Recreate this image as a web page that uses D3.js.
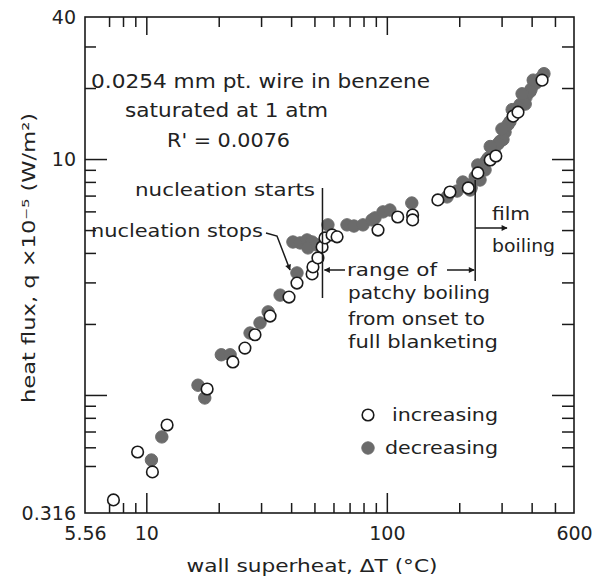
<!DOCTYPE html>
<html>
<head>
<meta charset="utf-8">
<script src="https://cdnjs.cloudflare.com/ajax/libs/d3/7.8.5/d3.min.js"></script>
<style>
  body { margin: 0; background: #fff; }
  svg text { font-family: "DejaVu Sans", sans-serif; fill: #222; }
  .tick line { stroke: #1a1a1a; stroke-width: 1.5; }
</style>
</head>
<body>
<svg id="chart" width="602" height="584"></svg>
<script>
// wall superheat dT (C) and heat flux q x 1e-5 (W/m2)
const incDT = [7.3, 9.2, 10.6, 12.2, 17.9, 22.9, 25.7, 28.3, 32.7, 39.2,
  42.3, 48.9, 49.3, 51.7, 53.8, 55.3, 59.2, 62.1, 91.9, 111,
  128, 128, 163, 183, 218, 239, 269, 284, 335, 351, 442];
const incQ = [0.359, 0.573, 0.472, 0.746, 1.06, 1.38, 1.58, 1.80, 2.16, 2.60,
  2.98, 3.26, 3.49, 3.81, 4.24, 4.63, 4.77, 4.68, 5.00, 5.68,
  5.79, 5.52, 6.71, 7.25, 7.54, 8.73, 9.91, 10.3, 15.2, 15.8, 21.6];

const decDT = [10.5, 11.6, 16.4, 17.5, 20.5, 22.3, 27.0, 29.7, 32.1, 36.0,
  42.3, 40.7, 43.6, 46.6, 48.9, 47.0, 51.3, 56.9, 68.3, 73.0,
  79.6, 86.8, 89.3, 96.4, 103, 127, 178, 196, 216, 233,
  249, 264, 279, 296, 310, 325, 341, 358, 379, 398,
  417, 438, 450, 256, 304, 376, 222, 244,
  224, 259, 290, 319, 351, 394, 207, 239, 269, 301, 332, 365, 406];
const decQ = [0.530, 0.664, 1.10, 0.971, 1.48, 1.48, 1.83, 2.02, 2.25, 2.65,
  3.29, 4.45, 4.41, 4.54, 4.45, 4.20, 4.32, 5.26, 5.26, 5.20,
  5.26, 5.52, 5.63, 5.97, 6.08, 6.51, 6.91, 7.32, 7.77, 8.40,
  9.17, 10.1, 10.9, 11.9, 13.0, 14.4, 15.7, 17.0, 18.3, 19.8,
  21.0, 22.1, 23.0, 8.99, 12.1, 17.1, 7.39, 8.15,
  7.54, 9.81, 11.6, 14.0, 16.5, 19.3, 7.99, 9.44, 11.3, 13.4, 16.2, 18.9, 21.6];

const xTickLabels = [5.56, 10, 100, 600];
const yTickLabels = [0.316, 10, 40];
const xMinor = [7, 8, 9, 20, 30, 40, 50, 60, 70, 80, 90, 200, 300, 400, 500];
const xMajor = [10, 100];
const yMinor = [0.5, 0.6, 0.7, 0.8, 0.9, 2, 3, 4, 5, 6, 7, 8, 9, 20, 30];
const yMajor = [1, 10];

// onset of patchy boiling and full blanketing (dT)
const onsetDT = 54;
const blanketDT = 233;

const svg = d3.select("#chart");
const margin = { top: 17, left: 85, bottom: 513, right: 574 };

const x = d3.scaleLog().domain([5.56, 600]).range([margin.left, margin.right]);
const y = d3.scaleLog().domain([0.316, 40]).range([margin.bottom, margin.top]);

const defs = svg.append("defs");
defs.append("marker")
  .attr("id", "arrow")
  .attr("viewBox", "0 0 10 10")
  .attr("refX", 9).attr("refY", 5)
  .attr("markerWidth", 8).attr("markerHeight", 6)
  .attr("markerUnits", "userSpaceOnUse")
  .attr("orient", "auto")
  .append("path").attr("d", "M0,0L10,5L0,10z").attr("fill", "#1a1a1a");

// frame
svg.append("rect")
  .attr("x", margin.left).attr("y", margin.top)
  .attr("width", margin.right - margin.left)
  .attr("height", margin.bottom - margin.top)
  .attr("fill", "none").attr("stroke", "#1a1a1a").attr("stroke-width", 1.6);

function ticks(axisFn, scale, values, size, tx, ty) {
  const g = svg.append("g").attr("transform", `translate(${tx},${ty})`)
    .call(axisFn(scale).tickValues(values).tickSize(size).tickFormat(""));
  g.select(".domain").remove();
  return g;
}
// inward ticks on all four sides
ticks(d3.axisBottom, x, xMinor, -10, 0, margin.bottom);
ticks(d3.axisBottom, x, xMajor, -20, 0, margin.bottom);
ticks(d3.axisTop, x, xMinor, -10, 0, margin.top);
ticks(d3.axisTop, x, xMajor, -18, 0, margin.top);
ticks(d3.axisLeft, y, yMinor, -11, margin.left, 0);
ticks(d3.axisLeft, y, yMajor, -22, margin.left, 0);
ticks(d3.axisRight, y, yMinor, -12, margin.right, 0);
ticks(d3.axisRight, y, yMajor, -22, margin.right, 0);

// tick labels
const xl = svg.append("g").attr("transform", `translate(0,${margin.bottom})`)
  .call(d3.axisBottom(x).tickValues(xTickLabels).tickSize(0).tickPadding(14).tickFormat(d => String(d)));
xl.select(".domain").remove();
xl.selectAll("text").attr("font-size", 19).attr("font-family", "DejaVu Sans").attr("fill", "#222");

const yl = svg.append("g").attr("transform", `translate(${margin.left},0)`)
  .call(d3.axisLeft(y).tickValues(yTickLabels).tickSize(0).tickPadding(9).tickFormat(d => String(d)));
yl.select(".domain").remove();
yl.selectAll("text").attr("font-size", 19).attr("font-family", "DejaVu Sans").attr("fill", "#222");

// axis titles
svg.append("text")
  .attr("x", 312).attr("y", 572)
  .attr("text-anchor", "middle").attr("font-size", 17)
  .attr("textLength", 251).attr("lengthAdjust", "spacingAndGlyphs")
  .text("wall superheat, \u0394T (\u00B0C)");

svg.append("text")
  .attr("transform", "translate(35,258) rotate(-90)")
  .attr("text-anchor", "middle").attr("font-size", 17)
  .attr("textLength", 290).attr("lengthAdjust", "spacingAndGlyphs")
  .text("heat flux, q \u00D710\u207B\u2075 (W/m\u00B2)");

// data
const filled = "#6b6b6b";
svg.append("g").selectAll("circle")
  .data(d3.zip(decDT, decQ))
  .join("circle")
  .attr("cx", d => x(d[0])).attr("cy", d => y(d[1]))
  .attr("r", 6.2).attr("fill", filled).attr("stroke", filled);

svg.append("g").selectAll("circle")
  .data(d3.zip(incDT, incQ))
  .join("circle")
  .attr("cx", d => x(d[0])).attr("cy", d => y(d[1]))
  .attr("r", 5.8).attr("fill", "#fff").attr("stroke", "#1a1a1a").attr("stroke-width", 1.6);

// annotations
const notes = [
  { t: "0.0254 mm pt. wire in benzene", x: 91, y: 88, w: 339, fs: 19 },
  { t: "saturated at 1 atm", x: 125, y: 117, w: 203, fs: 19 },
  { t: "R' = 0.0076", x: 167, y: 147, w: 123, fs: 19 },
  { t: "nucleation starts", x: 135, y: 196, w: 180, fs: 18 },
  { t: "nucleation stops", x: 91, y: 237, w: 172, fs: 18 },
  { t: "range of", x: 347, y: 276, w: 90, fs: 18 },
  { t: "patchy boiling", x: 348, y: 299, w: 142, fs: 18 },
  { t: "from onset to", x: 348, y: 325, w: 137, fs: 18 },
  { t: "full blanketing", x: 348, y: 348, w: 150, fs: 18 },
  { t: "film", x: 492, y: 220, w: 38, fs: 18 },
  { t: "boiling", x: 492, y: 252, w: 63, fs: 18 },
  { t: "increasing", x: 392, y: 421, w: 106, fs: 18 },
  { t: "decreasing", x: 385, y: 454, w: 113, fs: 18 }
];
svg.append("g").selectAll("text")
  .data(notes)
  .join("text")
  .attr("x", d => d.x).attr("y", d => d.y)
  .attr("font-size", d => d.fs)
  .attr("textLength", d => d.w).attr("lengthAdjust", "spacingAndGlyphs")
  .text(d => d.t);

const ann = svg.append("g").attr("stroke", "#1a1a1a").attr("stroke-width", 1.5).attr("fill", "none");
ann.append("line").attr("x1", x(onsetDT)).attr("x2", x(onsetDT)).attr("y1", 188).attr("y2", 298);
ann.append("line").attr("x1", x(blanketDT)).attr("x2", x(blanketDT)).attr("y1", 180).attr("y2", 281);
ann.append("line").attr("x1", 345).attr("x2", x(onsetDT) + 2).attr("y1", 270).attr("y2", 270)
  .attr("marker-end", "url(#arrow)");
ann.append("line").attr("x1", 447).attr("x2", x(blanketDT) - 1).attr("y1", 270).attr("y2", 270)
  .attr("marker-end", "url(#arrow)");
ann.append("line").attr("x1", x(blanketDT)).attr("x2", 507).attr("y1", 228).attr("y2", 228)
  .attr("marker-end", "url(#arrow)");
ann.append("path").attr("d", "M266,233L277,236L290,270").attr("marker-end", "url(#arrow)");

// legend
svg.append("circle").attr("cx", 368).attr("cy", 415).attr("r", 5.8)
  .attr("fill", "#fff").attr("stroke", "#1a1a1a").attr("stroke-width", 1.6);
svg.append("circle").attr("cx", 368).attr("cy", 448).attr("r", 6.2)
  .attr("fill", filled).attr("stroke", filled);
</script>
</body>
</html>
